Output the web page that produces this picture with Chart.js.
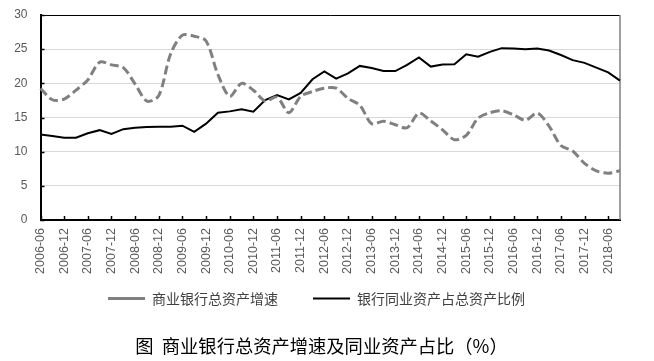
<!DOCTYPE html>
<html>
<head>
<meta charset="utf-8">
<script src="https://cdn.jsdelivr.net/npm/chart.js@4/dist/chart.umd.min.js"></script>
<style>
  html, body { margin: 0; padding: 0; background: #fff; }
  canvas { display: block; }
</style>
</head>
<body>
<canvas id="chart" width="654" height="361"></canvas>
<script>
// quarterly observations, 2006-06 .. 2018-09
const quarters = [
    '2006-06', '2006-09', '2006-12', '2007-03', '2007-06', '2007-09', '2007-12', '2008-03',
    '2008-06', '2008-09', '2008-12', '2009-03', '2009-06', '2009-09', '2009-12', '2010-03',
    '2010-06', '2010-09', '2010-12', '2011-03', '2011-06', '2011-09', '2011-12', '2012-03',
    '2012-06', '2012-09', '2012-12', '2013-03', '2013-06', '2013-09', '2013-12', '2014-03',
    '2014-06', '2014-09', '2014-12', '2015-03', '2015-06', '2015-09', '2015-12', '2016-03',
    '2016-06', '2016-09', '2016-12', '2017-03', '2017-06', '2017-09', '2017-12', '2018-03',
    '2018-06', '2018-09',
];

// labels shown on the x axis (every half year)
const tickLabels = [
    '2006-06', '2006-12', '2007-06', '2007-12', '2008-06', '2008-12', '2009-06', '2009-12',
    '2010-06', '2010-12', '2011-06', '2011-12', '2012-06', '2012-12', '2013-06', '2013-12',
    '2014-06', '2014-12', '2015-06', '2015-12', '2016-06', '2016-12', '2017-06', '2017-12',
    '2018-06',
];

// 商业银行总资产增速 (%)
const assetGrowth = [
    19.25, 17.6, 17.7, 19.0, 20.5, 23.1, 22.7, 22.3,
    19.9, 17.4, 18.2, 24.3, 27.05, 26.9, 26.2, 21.3,
    18.1, 20.0, 19.0, 17.4, 18.0, 15.7, 18.1, 18.8,
    19.3, 19.3, 17.8, 16.8, 14.1, 14.45, 13.95, 13.5,
    15.65, 14.5, 13.2, 11.75, 12.4, 14.9, 15.7, 16.0,
    15.4, 14.6, 15.65, 13.75, 10.9, 10.1, 8.3, 7.2,
    6.85, 7.2,
];

// 银行同业资产占总资产比例 (%)
const interbankShare = [
    12.5, 12.3, 12.05, 12.05, 12.7, 13.15, 12.6, 13.3,
    13.5, 13.6, 13.65, 13.65, 13.8, 12.9, 14.1, 15.7,
    15.9, 16.2, 15.85, 17.55, 18.3, 17.65, 18.6, 20.6,
    21.75, 20.7, 21.45, 22.55, 22.25, 21.8, 21.8, 22.7,
    23.8, 22.45, 22.75, 22.8, 24.25, 23.9, 24.6, 25.15,
    25.1, 25.0, 25.1, 24.8, 24.15, 23.4, 23.0, 22.3,
    21.6, 20.4,
];

const yTicks = [0, 5, 10, 15, 20, 25, 30];

const LATIN = '"Liberation Sans", Arial, sans-serif';
const CJK = '"Noto Sans CJK SC", "Liberation Sans", sans-serif';

// plot frame (top/right) and the short inward tick marks
const framePlugin = {
    id: 'frame',
    afterLayout(chart) {
        // legend keeps wide gaps between items but sits closer to the axis labels
        chart.legend.top -= 18.5;
        chart.legend.bottom -= 18.5;
        // caption sits a little right of centre in the original
        chart.titleBlock.left += 5;
        chart.titleBlock.right += 5;
    },
    beforeDatasetsDraw(chart) {
        const { ctx, chartArea: a, scales: { x, y } } = chart;
        ctx.save();
        ctx.strokeStyle = '#000';
        ctx.lineWidth = 1;
        ctx.beginPath();
        ctx.moveTo(a.left, a.top + 0.5);
        ctx.lineTo(a.right, a.top + 0.5);
        ctx.stroke();

        ctx.strokeStyle = '#7f7f7f';
        ctx.lineWidth = 1.5;
        ctx.beginPath();
        ctx.moveTo(a.right, a.top);
        ctx.lineTo(a.right, a.bottom);
        ctx.stroke();

        ctx.strokeStyle = '#000';
        ctx.lineWidth = 1.5;
        ctx.beginPath();
        quarters.forEach((q, i) => {
            if (!tickLabels.includes(q)) return;
            const px = Math.round(x.getPixelForValue(i)) + 0.5;
            ctx.moveTo(px, a.bottom);
            ctx.lineTo(px, a.bottom - 4);
        });
        yTicks.forEach(v => {
            const py = Math.round(y.getPixelForValue(v)) + 0.5;
            ctx.moveTo(a.left, py);
            ctx.lineTo(a.left + 4, py);
        });
        ctx.stroke();
        ctx.restore();
    },
};

new Chart(document.getElementById('chart'), {
    type: 'line',
    data: {
        labels: quarters,
        datasets: [{
            label: '商业银行总资产增速',
            data: assetGrowth,
            borderColor: '#808080',
            backgroundColor: '#808080',
            borderWidth: 3,
            borderDash: [9, 4],
            tension: 0.3,
            pointRadius: 0,
        }, {
            label: '银行同业资产占总资产比例',
            data: interbankShare,
            borderColor: '#000',
            backgroundColor: '#000',
            borderWidth: 2,
            tension: 0,
            pointRadius: 0,
        }],
    },
    options: {
        responsive: false,
        animation: false,
        layout: { padding: { left: 13, right: 34, top: 15, bottom: 4 } },
        scales: {
            x: {
                offset: false,
                grid: { display: false, drawTicks: false },
                border: { color: '#000', width: 2 },
                ticks: {
                    autoSkip: false,
                    maxRotation: 90,
                    minRotation: 90,
                    padding: 8,
                    color: '#595959',
                    font: { family: LATIN, size: 12.5 },
                    callback(value) {
                        const lab = this.getLabelForValue(value);
                        return tickLabels.includes(lab) ? lab : null;
                    },
                },
                afterFit(scale) { scale.height = 55; },
            },
            y: {
                min: 0,
                max: 30,
                grid: { color: '#d9d9d9', lineWidth: 1, drawTicks: false },
                border: { color: '#000', width: 2 },
                ticks: {
                    stepSize: 5,
                    padding: 13,
                    color: '#595959',
                    font: { family: LATIN, size: 12 },
                },
                afterBuildTicks(scale) {
                    scale.ticks = yTicks.map(v => ({ value: v }));
                },
                afterFit(scale) {
                    scale.width = 27.5;
                    scale.paddingTop = 7;
                    scale.paddingBottom = 7;
                },
            },
        },
        plugins: {
            legend: {
                position: 'bottom',
                maxHeight: 56,
                labels: {
                    usePointStyle: true,
                    pointStyle: 'line',
                    pointStyleWidth: 37,
                    padding: 35,
                    color: '#404040',
                    font: { family: CJK, size: 14 },
                },
            },
            title: {
                display: true,
                position: 'bottom',
                text: '图  商业银行总资产增速及同业资产占比（%）',
                color: '#000',
                font: { family: CJK, size: 18.3, weight: 'normal' },
                padding: { top: 4, bottom: 0 },
            },
            tooltip: { enabled: false },
        },
    },
    plugins: [framePlugin],
});
</script>
</body>
</html>
